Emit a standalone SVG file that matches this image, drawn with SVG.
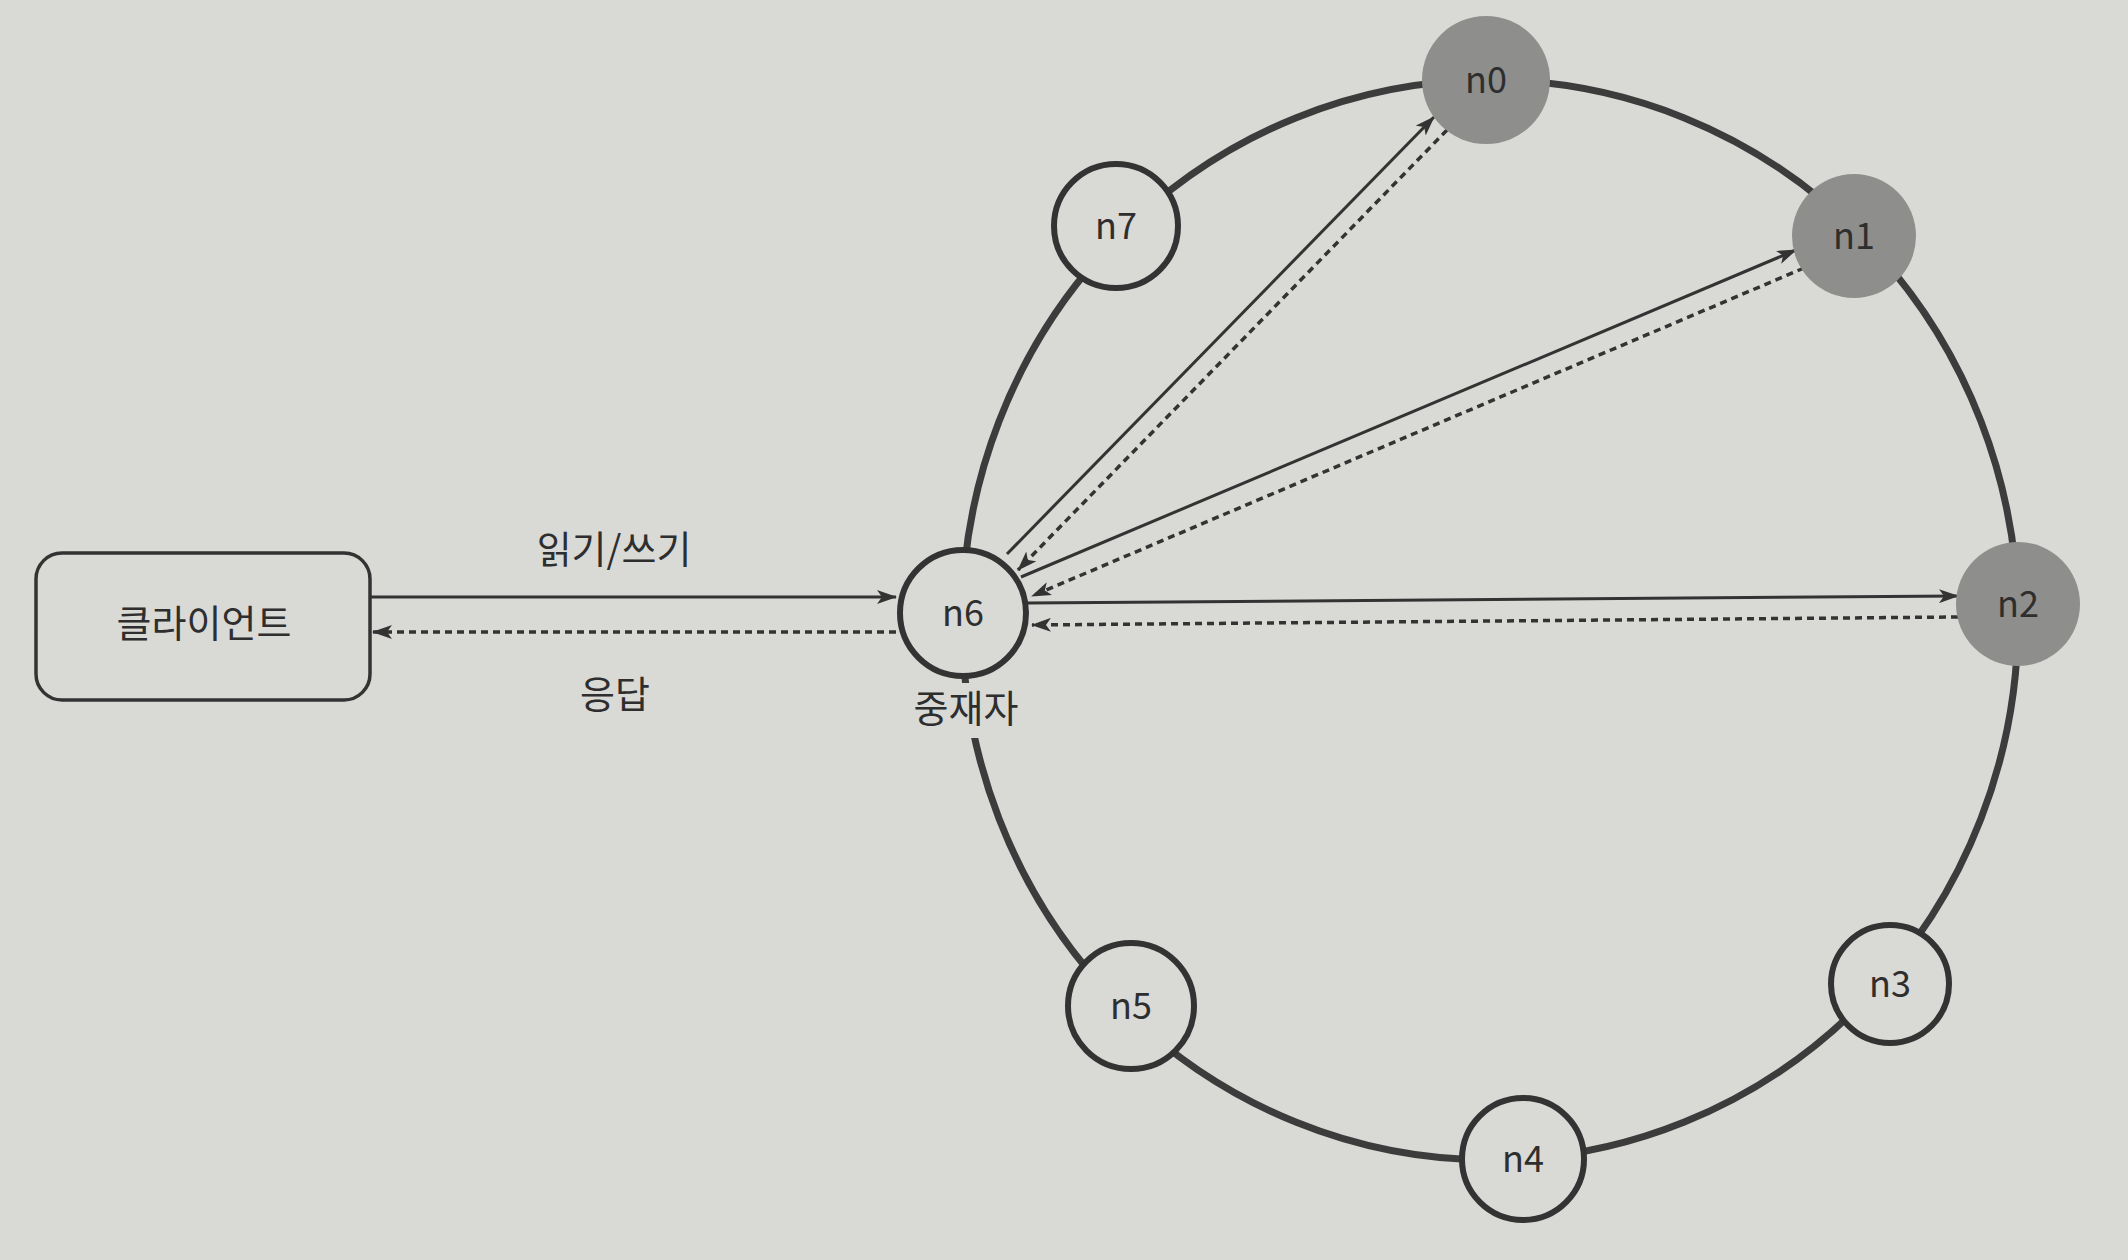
<svg xmlns="http://www.w3.org/2000/svg" width="2128" height="1260" viewBox="0 0 2128 1260">
<defs>
<style>
.t{font-family:"Noto Sans CJK KR","Noto Sans",sans-serif;fill:#2e2e2e;text-anchor:middle}
.lbl{font-size:38px}
.nl{font-size:36px}
.node{fill:#d9d9d6;stroke:#333;stroke-width:6}
.gnode{fill:#8e8e8c;stroke:none}
.ring{fill:none;stroke:#3c3c3c;stroke-width:7}
.sol{fill:none;stroke:#333;stroke-width:3}
.dsh{fill:none;stroke:#333;stroke-width:3.5;stroke-dasharray:7 5}
</style>
<marker id="ah" viewBox="0 0 20 14" refX="19" refY="7" markerWidth="20" markerHeight="14" markerUnits="userSpaceOnUse" orient="auto">
<path d="M0,0 L20,7 L0,14 L5,7 Z" fill="#333"/>
</marker>
</defs>
<rect width="2128" height="1260" fill="#d9d9d6"/>
<g id="ring">
<ellipse class="ring" cx="1490" cy="620" rx="528" ry="540"/>
<rect x="905" y="683" width="120" height="55" fill="#d9d9d6"/>
</g>
<g id="connectors">
<line class="sol" x1="370" y1="597" x2="896" y2="597" marker-end="url(#ah)"/>
<line class="dsh" x1="896" y1="632" x2="373" y2="632" marker-end="url(#ah)"/>
<line class="sol" x1="1007" y1="554" x2="1434" y2="117" marker-end="url(#ah)"/>
<line class="dsh" x1="1447" y1="130" x2="1018" y2="570" marker-end="url(#ah)"/>
<line class="sol" x1="1021" y1="577" x2="1796" y2="250" marker-end="url(#ah)"/>
<line class="dsh" x1="1804" y1="268" x2="1032" y2="596" marker-end="url(#ah)"/>
<line class="sol" x1="1028" y1="603" x2="1958" y2="596" marker-end="url(#ah)"/>
<line class="dsh" x1="1958" y1="617" x2="1032" y2="625" marker-end="url(#ah)"/>
</g>
<g id="client">
<rect x="36" y="553" width="334" height="147" rx="26" fill="#d9d9d6" stroke="#333" stroke-width="3.5"/>
<text class="t lbl" x="204" y="637">클라이언트</text>
</g>
<g id="labels">
<text class="t lbl" x="614" y="563">읽기/쓰기</text>
<text class="t lbl" x="615" y="708">응답</text>
</g>
<g id="n6">
<circle class="node" cx="963" cy="613" r="63"/>
<text class="t nl" x="963" y="626">n6</text>
<text class="t lbl" x="966" y="722">중재자</text>
</g>
<g id="n7">
<circle class="node" cx="1116" cy="226" r="62"/>
<text class="t nl" x="1116" y="239">n7</text>
</g>
<g id="n0">
<circle class="gnode" cx="1486" cy="80" r="64"/>
<text class="t nl" x="1486" y="93">n0</text>
</g>
<g id="n1">
<circle class="gnode" cx="1854" cy="236" r="62"/>
<text class="t nl" x="1854" y="249">n1</text>
</g>
<g id="n2">
<circle class="gnode" cx="2018" cy="604" r="62"/>
<text class="t nl" x="2018" y="617">n2</text>
</g>
<g id="n3">
<circle class="node" cx="1890" cy="984" r="59"/>
<text class="t nl" x="1890" y="997">n3</text>
</g>
<g id="n4">
<circle class="node" cx="1523" cy="1159" r="61"/>
<text class="t nl" x="1523" y="1172">n4</text>
</g>
<g id="n5">
<circle class="node" cx="1131" cy="1006" r="63"/>
<text class="t nl" x="1131" y="1019">n5</text>
</g>
</svg>
